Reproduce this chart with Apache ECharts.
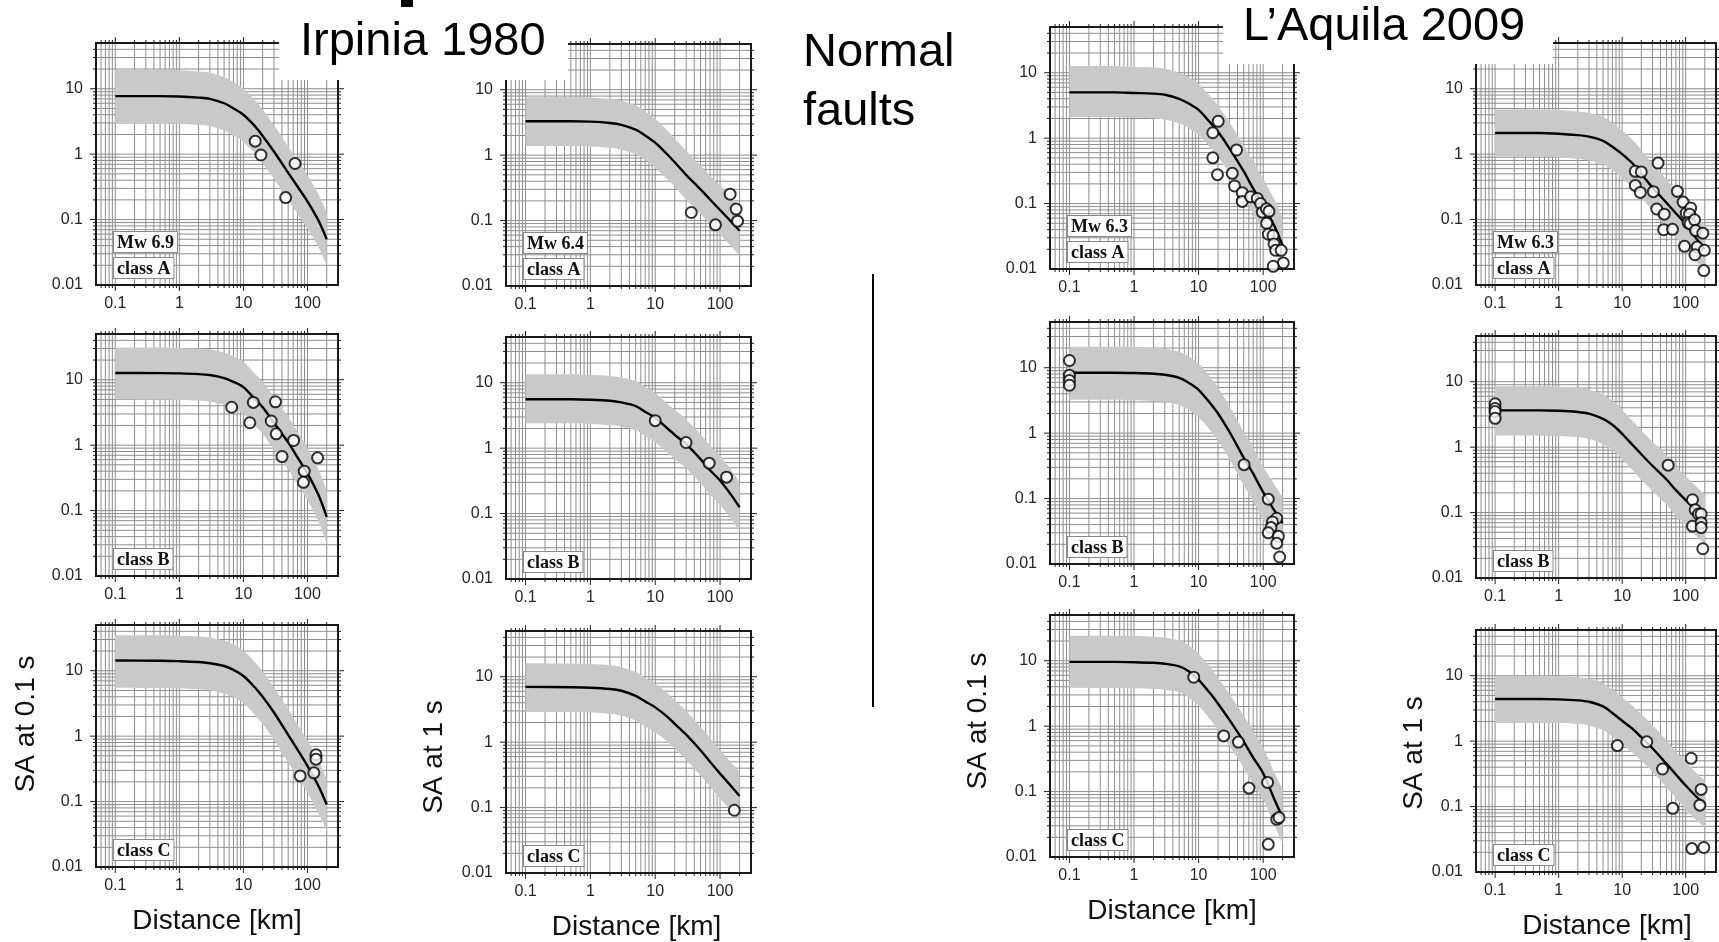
<!DOCTYPE html>
<html><head><meta charset="utf-8">
<script src="https://cdn.jsdelivr.net/npm/echarts@6/dist/echarts.min.js"></script>
<style>html,body{margin:0;padding:0;background:#fff}#c{width:1719px;height:942px}</style>
</head><body><div id="c"></div>
<script>
// ---------------- data ----------------
const DIST = [0.1, 0.5, 1, 2, 3, 5, 7, 10, 15, 20, 30, 50, 70, 100, 150, 200];
const X_TICKS = [0.1, 1, 10, 100];
const Y_TICKS = [0.01, 0.1, 1, 10];
const MAG_LABELS = ['Mw 6.9', 'Mw 6.4', 'Mw 6.3', 'Mw 6.3'];
const CLASS_LABELS = ['class A', 'class B', 'class C'];
const Y_TITLES = ['SA at 0.1 s', 'SA at 1 s', 'SA at 0.1 s', 'SA at 1 s'];
const X_TITLE = 'Distance [km]';

// Irpinia 1980, SA 0.1 s
const IRP01_A_MED = [7.7,7.7,7.6,7.3,7.0,6.0,5.0,4.0,2.7,1.9,1.1,0.52,0.32,0.19,0.095,0.05];
const IRP01_A_UP  = [19.5,19.5,19.2,18.4,17.6,15.1,12.6,10.1,6.8,4.8,2.8,1.31,0.81,0.48,0.24,0.126];
const IRP01_A_LO  = [2.95,2.95,2.92,2.8,2.7,2.3,1.92,1.54,1.04,0.73,0.42,0.2,0.123,0.073,0.037,0.02];
const IRP01_A_OBS = [[15.3,1.58],[18.8,0.97],[64,0.72],[45.7,0.217]];

const IRP01_B_MED = [12.7,12.6,12.5,12.2,11.8,10.6,9.3,7.7,5.1,3.8,2.2,1.1,0.65,0.37,0.17,0.08];
const IRP01_B_UP  = [31,31,30.6,29.9,28.9,26,22.8,18.9,12.5,9.3,5.4,2.7,1.6,0.9,0.42,0.2];
const IRP01_B_LO  = [5.0,4.95,4.9,4.8,4.6,4.15,3.65,3.0,2.0,1.5,0.86,0.43,0.255,0.145,0.067,0.031];
const IRP01_B_OBS = [[6.56,3.8],[12.6,2.2],[14.3,4.5],[27.2,2.34],[31.7,4.6],[32.6,1.49],[40.1,0.67],[60.8,1.18],[144,0.64],[89,0.4],[86.5,0.27]];

const IRP01_C_MED = [14.3,14.2,14.0,13.6,13.0,11.8,10.3,8.3,5.6,4.0,2.3,1.05,0.62,0.35,0.17,0.09];
const IRP01_C_UP  = [35,34.8,34.3,33.3,31.8,28.9,25.2,20.3,13.7,9.8,5.6,2.6,1.52,0.86,0.42,0.22];
const IRP01_C_LO  = [5.5,5.45,5.4,5.2,5.0,4.5,3.95,3.2,2.15,1.54,0.88,0.4,0.24,0.135,0.065,0.035];
const IRP01_C_OBS = [[77,0.247],[126,0.275],[136,0.52],[136,0.445]];

// Irpinia 1980, SA 1 s
const IRP1_A_MED = [3.3,3.3,3.25,3.1,2.9,2.45,2.0,1.55,1.05,0.78,0.5,0.3,0.21,0.145,0.095,0.07];
const IRP1_A_UP  = [7.7,7.7,7.6,7.2,6.8,5.7,4.65,3.6,2.45,1.8,1.17,0.7,0.49,0.34,0.22,0.163];
const IRP1_A_LO  = [1.38,1.38,1.36,1.3,1.21,1.03,0.84,0.65,0.44,0.33,0.21,0.126,0.088,0.061,0.04,0.029];
const IRP1_A_OBS = [[36,0.133],[85,0.086],[143,0.253],[177,0.15],[186,0.098]];

const IRP1_B_MED = [5.6,5.6,5.5,5.3,5.0,4.4,3.6,2.9,2.05,1.6,1.15,0.68,0.46,0.32,0.19,0.125];
const IRP1_B_UP  = [13.5,13.5,13.2,12.7,12,10.6,8.6,7.0,4.9,3.85,2.75,1.63,1.1,0.77,0.46,0.3];
const IRP1_B_LO  = [2.4,2.4,2.35,2.25,2.13,1.87,1.53,1.23,0.87,0.68,0.49,0.29,0.196,0.136,0.081,0.053];
const IRP1_B_OBS = [[10,2.63],[29.9,1.22],[68,0.59],[126,0.36]];

const IRP1_C_MED = [7.0,6.9,6.8,6.5,6.1,5.1,4.2,3.4,2.5,1.9,1.3,0.75,0.5,0.33,0.21,0.15];
const IRP1_C_UP  = [16.1,15.9,15.6,15,14,11.7,9.7,7.8,5.75,4.4,3.0,1.73,1.15,0.76,0.48,0.35];
const IRP1_C_LO  = [2.9,2.88,2.83,2.7,2.55,2.12,1.75,1.42,1.04,0.79,0.54,0.31,0.21,0.138,0.088,0.063];
const IRP1_C_OBS = [[166,0.091]];

// L'Aquila 2009, SA 0.1 s
const AQ01_A_MED = [5.0,5.0,4.9,4.8,4.6,4.0,3.4,2.7,1.75,1.25,0.7,0.31,0.17,0.095,0.045,0.023];
const AQ01_A_UP  = [12.6,12.6,12.3,12,11.5,10,8.5,6.8,4.4,3.1,1.75,0.78,0.43,0.24,0.113,0.058];
const AQ01_A_LO  = [2.1,2.1,2.05,2.0,1.92,1.67,1.42,1.12,0.73,0.52,0.29,0.13,0.071,0.04,0.019,0.0102];
const AQ01_A_OBS = [[20.1,1.81],[16.6,1.21],[16.6,0.5],[19.6,0.277],[38.7,0.66],[33.2,0.29],[36,0.186],[47.4,0.147],[47.4,0.108],[63.8,0.127],[81,0.12],[91.3,0.1],[97,0.074],[112,0.083],[123,0.076],[113,0.05],[120,0.034],[142,0.0325],[147,0.0242],[156,0.0193],[190,0.0193],[205,0.0124],[143,0.011]];

const AQ01_B_MED = [8.4,8.4,8.3,8.1,7.8,7.0,5.9,4.6,2.9,2.0,1.05,0.42,0.24,0.125,0.065,0.042];
const AQ01_B_UP  = [21,21,20.8,20.3,19.5,17.5,14.8,11.5,7.3,5.0,2.6,1.05,0.6,0.31,0.163,0.105];
const AQ01_B_LO  = [3.25,3.25,3.2,3.1,3.0,2.7,2.27,1.77,1.12,0.77,0.4,0.16,0.092,0.048,0.025,0.016];
const AQ01_B_OBS = [[0.1,12.9],[0.1,7.7],[0.1,6.4],[0.1,5.4],[50.6,0.33],[120,0.098],[162,0.05],[139,0.044],[132,0.036],[120,0.03],[172,0.0265],[162,0.0207],[180,0.0128]];

const AQ01_C_MED = [9.6,9.6,9.5,9.3,9.0,8.2,6.9,5.1,3.2,2.2,1.25,0.58,0.33,0.19,0.075,0.04];
const AQ01_C_UP  = [24,24,23.8,23.3,22.5,20.5,17.3,12.8,8.0,5.5,3.1,1.45,0.83,0.47,0.19,0.11];
const AQ01_C_LO  = [3.85,3.85,3.8,3.7,3.6,3.3,2.75,2.05,1.28,0.88,0.5,0.23,0.132,0.076,0.03,0.016];
const AQ01_C_OBS = [[8.4,5.6],[24.5,0.71],[41.3,0.57],[60.4,0.113],[117,0.138],[162,0.0376],[176,0.04],[120,0.0156]];

// L'Aquila 2009, SA 1 s
const AQ1_A_MED = [2.1,2.1,2.05,1.95,1.85,1.6,1.3,1.0,0.7,0.5,0.31,0.18,0.125,0.085,0.05,0.035];
const AQ1_A_UP  = [4.8,4.8,4.7,4.5,4.25,3.7,3.0,2.3,1.6,1.15,0.71,0.41,0.29,0.195,0.115,0.08];
const AQ1_A_LO  = [0.91,0.91,0.89,0.85,0.8,0.7,0.57,0.43,0.3,0.22,0.135,0.078,0.054,0.037,0.022,0.015];
const AQ1_A_OBS = [[16.1,0.547],[20,0.535],[16.1,0.333],[19.3,0.26],[36.7,0.73],[31,0.267],[35,0.145],[46,0.121],[45,0.07],[62,0.071],[74,0.27],[91,0.185],[102,0.126],[120,0.15],[115,0.121],[109,0.09],[117,0.086],[138,0.099],[143,0.068],[186,0.062],[96,0.039],[152,0.038],[140,0.029],[197,0.034],[193,0.0166]];

const AQ1_B_MED = [3.65,3.65,3.6,3.45,3.25,2.7,2.2,1.6,1.05,0.78,0.52,0.32,0.22,0.155,0.105,0.08];
const AQ1_B_UP  = [8.5,8.5,8.4,8.0,7.6,6.3,5.1,3.7,2.45,1.82,1.21,0.75,0.51,0.36,0.245,0.185];
const AQ1_B_LO  = [1.5,1.5,1.48,1.42,1.34,1.11,0.9,0.66,0.43,0.32,0.214,0.132,0.09,0.064,0.043,0.033];
const AQ1_B_OBS = [[0.1,4.6],[0.1,3.9],[0.1,3.5],[0.1,2.76],[53,0.53],[128,0.157],[141,0.11],[159,0.095],[175,0.095],[128,0.062],[175,0.07],[175,0.059],[186,0.028]];

const AQ1_C_MED = [4.4,4.4,4.35,4.2,4.0,3.4,2.7,2.05,1.5,1.15,0.78,0.45,0.31,0.21,0.14,0.11];
const AQ1_C_UP  = [10,10,9.9,9.5,9.1,7.7,6.1,4.65,3.4,2.6,1.77,1.02,0.7,0.48,0.32,0.25];
const AQ1_C_LO  = [1.9,1.9,1.89,1.83,1.74,1.48,1.17,0.89,0.65,0.5,0.34,0.196,0.135,0.091,0.061,0.048];
const AQ1_C_OBS = [[8.4,0.855],[24.4,0.98],[43.2,0.375],[62.7,0.094],[122,0.547],[175,0.183],[167,0.105],[125,0.0228],[193,0.0237]];

// ---------------- layout ----------------
const PANELS = [
  [IRP01_A_MED, IRP01_A_UP, IRP01_A_LO, IRP01_A_OBS], [IRP1_A_MED, IRP1_A_UP, IRP1_A_LO, IRP1_A_OBS],
  [AQ01_A_MED, AQ01_A_UP, AQ01_A_LO, AQ01_A_OBS], [AQ1_A_MED, AQ1_A_UP, AQ1_A_LO, AQ1_A_OBS],
  [IRP01_B_MED, IRP01_B_UP, IRP01_B_LO, IRP01_B_OBS], [IRP1_B_MED, IRP1_B_UP, IRP1_B_LO, IRP1_B_OBS],
  [AQ01_B_MED, AQ01_B_UP, AQ01_B_LO, AQ01_B_OBS], [AQ1_B_MED, AQ1_B_UP, AQ1_B_LO, AQ1_B_OBS],
  [IRP01_C_MED, IRP01_C_UP, IRP01_C_LO, IRP01_C_OBS], [IRP1_C_MED, IRP1_C_UP, IRP1_C_LO, IRP1_C_OBS],
  [AQ01_C_MED, AQ01_C_UP, AQ01_C_LO, AQ01_C_OBS], [AQ1_C_MED, AQ1_C_UP, AQ1_C_LO, AQ1_C_OBS]
];
const COL_LEFT = [96, 506, 1050, 1476];
const COL_W = [242, 245, 244, 242];
const TOPS = [[43, 44, 27, 43], [334, 337, 322, 336], [625, 631, 615, 630]];
const PH = 242;
const YTITLE_X = [26, 434, 978, 1414];
const YTITLE_Y = [724, 757, 721, 753];
const XTITLE_DX = [0, 8, 0, 10];
const XMIN = 0.05, XMAX = 300, YMIN = 0.01, YMAX = 50;

function logGrid(min, max) {
  const out = [];
  for (let e = -3; e <= 3; e++) for (let m = 1; m <= 9; m++) {
    const v = +(m * Math.pow(10, e)).toPrecision(6);
    if (v > min * 1.0001 && v < max * 0.9999) out.push(v);
  }
  return out;
}
const GX = logGrid(XMIN, XMAX), GY = logGrid(YMIN, YMAX);
function isIn(list, v) { return list.some(t => Math.abs(t - v) / t < 1e-6); }
function fmt(list) { return function (v) { return isIn(list, v) ? String(+(+v).toPrecision(6)) : ''; }; }

function gridRender(params, api) {
  const cs = params.coordSys;
  const x0 = cs.x, y0 = cs.y, x1 = cs.x + cs.width, y1 = cs.y + cs.height;
  const ch = [];
  const gs = { stroke: '#8e8e8e', lineWidth: 1 };
  const ts = { stroke: '#222', lineWidth: 1 };
  GX.forEach(v => {
    const p = api.coord([v, 1])[0];
    ch.push({ type: 'line', shape: { x1: p, y1: y0, x2: p, y2: y1 }, style: gs });
    const L = isIn(X_TICKS, v) ? 6 : 3;
    ch.push({ type: 'line', shape: { x1: p, y1: y0, x2: p, y2: y0 - L }, style: ts });
    ch.push({ type: 'line', shape: { x1: p, y1: y1, x2: p, y2: y1 + L }, style: ts });
  });
  GY.forEach(v => {
    const p = api.coord([1, v])[1];
    ch.push({ type: 'line', shape: { x1: x0, y1: p, x2: x1, y2: p }, style: gs });
    const L = isIn(Y_TICKS, v) ? 6 : 3;
    ch.push({ type: 'line', shape: { x1: x0, y1: p, x2: x0 - L, y2: p }, style: ts });
    ch.push({ type: 'line', shape: { x1: x1, y1: p, x2: x1 + L, y2: p }, style: ts });
  });
  ch.push({ type: 'rect', shape: { x: x0, y: y0, width: cs.width, height: cs.height }, style: { fill: 'none', stroke: '#1a1a1a', lineWidth: 2 } });
  return { type: 'group', children: ch };
}
// smooth (Catmull-Rom) path through pixel points already placed by the axes
function splineSegs(p) {
  let s = '';
  for (let i = 0; i < p.length - 1; i++) {
    const a = p[Math.max(i - 1, 0)], b = p[i], c = p[i + 1], d = p[Math.min(i + 2, p.length - 1)];
    const c1x = b[0] + (c[0] - a[0]) / 6, c1y = b[1] + (c[1] - a[1]) / 6;
    const c2x = c[0] - (d[0] - b[0]) / 6, c2y = c[1] - (d[1] - b[1]) / 6;
    s += ' C' + c1x.toFixed(2) + ' ' + c1y.toFixed(2) + ' ' + c2x.toFixed(2) + ' ' + c2y.toFixed(2) + ' ' + c[0].toFixed(2) + ' ' + c[1].toFixed(2);
  }
  return s;
}
function bandRender(up, lo) {
  return function (params, api) {
    const pu = DIST.map((d, i) => api.coord([d, up[i]]));
    const pl = DIST.map((d, i) => api.coord([d, lo[i]])).reverse();
    const path = 'M' + pu[0][0] + ' ' + pu[0][1] + splineSegs(pu) +
      ' L' + pl[0][0] + ' ' + pl[0][1] + splineSegs(pl) + ' Z';
    return { type: 'path', shape: { pathData: path }, style: { fill: '#c9c9c9' } };
  };
}

const grids = [], xAxes = [], yAxes = [], series = [], graphics = [];
const labelFont = '"Liberation Sans", Arial, sans-serif';
PANELS.forEach((P, i) => {
  const r = Math.floor(i / 4), c = i % 4;
  const left = COL_LEFT[c], top = TOPS[r][c], w = COL_W[c];
  grids.push({ left: left, top: top, width: w, height: PH, containLabel: false });
  xAxes.push({ gridIndex: i, type: 'log', logBase: 10, min: XMIN, max: XMAX,
    axisLine: { show: false }, axisTick: { show: false }, splitLine: { show: false }, minorTick: { show: false },
    axisLabel: { formatter: fmt(X_TICKS), color: '#262626', fontSize: 16, fontFamily: labelFont, margin: 11 } });
  yAxes.push({ gridIndex: i, type: 'log', logBase: 10, min: YMIN, max: YMAX,
    axisLine: { show: false }, axisTick: { show: false }, splitLine: { show: false }, minorTick: { show: false },
    axisLabel: { formatter: fmt(Y_TICKS), color: '#262626', fontSize: 16, fontFamily: labelFont, margin: 13 } });
  series.push({ type: 'custom', xAxisIndex: i, yAxisIndex: i, z: 1, silent: true, renderItem: gridRender, data: [[1, 1]] });
  series.push({ type: 'custom', xAxisIndex: i, yAxisIndex: i, z: 2, silent: true, clip: true, renderItem: bandRender(P[1], P[2]), data: [[1, 1]] });
  series.push({ type: 'line', xAxisIndex: i, yAxisIndex: i, z: 3, silent: true, symbol: 'none', smooth: 0.3,
    data: DIST.map((d, k) => [d, P[0][k]]), lineStyle: { color: '#000', width: 2.4 } });
  series.push({ type: 'scatter', xAxisIndex: i, yAxisIndex: i, z: 4, silent: true, symbol: 'circle', symbolSize: 11,
    data: P[3], itemStyle: { color: '#fff', borderColor: '#000', borderWidth: 2 } });

  // in-panel labels
  const boxStyle = (t) => ({ text: t, font: 'bold 18px "Liberation Serif", "Times New Roman", serif', fill: '#111',
    backgroundColor: '#fff', borderColor: '#8a8a8a', borderWidth: 1, padding: [2, 3, 0, 3],
    align: 'left', verticalAlign: 'top', textAlign: 'left', textVerticalAlign: 'top' });
  const bottom = top + PH;
  graphics.push({ type: 'text', x: left + 18, y: bottom - 27, z: 50, style: boxStyle(CLASS_LABELS[r]) });
  if (r === 0) graphics.push({ type: 'text', x: left + 18, y: bottom - 53, z: 50, style: boxStyle(MAG_LABELS[c]) });
  if (r === 2) {
    graphics.push({ type: 'text', x: left + w / 2 + XTITLE_DX[c], y: bottom + 54, z: 50,
      style: { text: X_TITLE, font: '28px ' + labelFont, fill: '#111', align: 'center', verticalAlign: 'middle', textAlign: 'center', textVerticalAlign: 'middle' } });
    graphics.push({ type: 'text', x: YTITLE_X[c], y: YTITLE_Y[c], rotation: Math.PI / 2, z: 50,
      style: { text: Y_TITLES[c], font: '28px ' + labelFont, fill: '#111', align: 'center', verticalAlign: 'middle', textAlign: 'center', textVerticalAlign: 'middle' } });
  }
});

// title covers and texts
const titleFont = '47px ' + labelFont;
graphics.push({ type: 'rect', shape: { x: 279, y: 0, width: 289, height: 80 }, style: { fill: '#fff' }, z: 100 });
graphics.push({ type: 'rect', shape: { x: 1223, y: 0, width: 330, height: 64 }, style: { fill: '#fff' }, z: 100 });
const tstyle = (t) => ({ text: t, font: titleFont, fill: '#000', align: 'left', verticalAlign: 'middle', textAlign: 'left', textVerticalAlign: 'middle' });
graphics.push({ type: 'text', x: 300, y: 42, z: 101, style: tstyle('Irpinia 1980') });
graphics.push({ type: 'text', x: 1243, y: 27, z: 101, style: tstyle('L\u2019Aquila 2009') });
graphics.push({ type: 'text', x: 803, y: 53, z: 101, style: tstyle('Normal') });
graphics.push({ type: 'text', x: 803, y: 112, z: 101, style: tstyle('faults') });
graphics.push({ type: 'rect', shape: { x: 401, y: 0, width: 12, height: 7 }, style: { fill: '#000' }, z: 101 });
graphics.push({ type: 'line', shape: { x1: 873, y1: 274, x2: 873, y2: 707 }, style: { stroke: '#000', lineWidth: 2 }, z: 101 });

const chart = echarts.init(document.getElementById('c'), null, { renderer: 'canvas' });
chart.setOption({
  animation: false,
  backgroundColor: '#fff',
  grid: grids, xAxis: xAxes, yAxis: yAxes, series: series, graphic: graphics
});
</script>
</body></html>
